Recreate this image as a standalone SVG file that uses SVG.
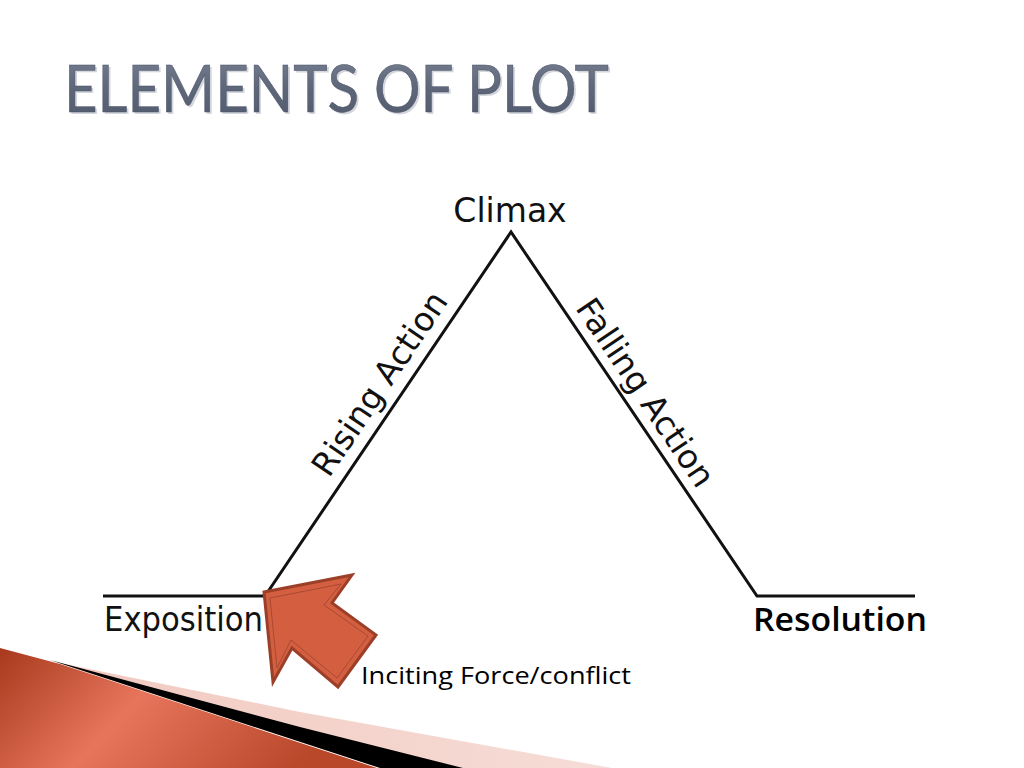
<svg xmlns="http://www.w3.org/2000/svg" width="1024" height="768" viewBox="0 0 1024 768">
<defs>
<style>
.lbl{font-family:"DejaVu Sans","Verdana",sans-serif;font-size:33px;fill:#111}
.cal{font-family:"Open Sans","Liberation Sans",sans-serif;fill:#000}
.ln{stroke:#111;stroke-width:3;fill:none;stroke-linejoin:miter}
</style>
<linearGradient id="red" x1="0" y1="0" x2="1" y2="0.3">
<stop offset="0" stop-color="#a8391c"/>
<stop offset="0.45" stop-color="#e6755c"/>
<stop offset="1" stop-color="#b9472a"/>
</linearGradient>
<linearGradient id="pink" x1="0" y1="0" x2="1" y2="0">
<stop offset="0" stop-color="#f1c9c0"/>
<stop offset="1" stop-color="#f6ddd7"/>
</linearGradient>
<linearGradient id="ttl" x1="0" y1="0" x2="0" y2="1">
<stop offset="0" stop-color="#7c8498"/>
<stop offset="0.5" stop-color="#5f677b"/>
<stop offset="1" stop-color="#50586b"/>
</linearGradient>
</defs>
<rect width="1024" height="768" fill="#fff"/>
<g id="background">
<polygon points="55,662 300,712 612,768 380,768" fill="url(#pink)"/>
<polygon points="50,660 300,727 463,768 380,768" fill="#000"/>
<polygon points="0,648 60,664 377,768 0,768" fill="url(#red)"/>
</g>
<g id="title">
<text x="64" y="112" font-family="Lato,'Open Sans',sans-serif" font-size="65" textLength="545" lengthAdjust="spacingAndGlyphs" fill="#d3d6dc" transform="translate(2,2)">ELEMENTS OF PLOT</text>
<text x="64" y="112" font-family="Lato,'Open Sans',sans-serif" font-size="65" textLength="545" lengthAdjust="spacingAndGlyphs" fill="url(#ttl)" stroke="#4a5164" stroke-width="0.5">ELEMENTS OF PLOT</text>
</g>
<g id="connectors">
<polyline class="ln" points="103,596 265,596 511,232 757,596 915,596"/>
</g>
<g id="climax"><text class="lbl" x="510" y="222" text-anchor="middle">Climax</text></g>
<g id="rising"><text class="lbl" x="389" y="390" text-anchor="middle" transform="rotate(-56 389 390)">Rising Action</text></g>
<g id="falling"><text class="lbl" x="636" y="399" text-anchor="middle" transform="rotate(56 636 399)">Falling Action</text></g>
<g id="exposition"><text class="lbl" x="104" y="631" font-size="35" textLength="159" lengthAdjust="spacingAndGlyphs">Exposition</text></g>
<g id="resolution"><text class="cal" x="753" y="631" font-size="33" textLength="174" lengthAdjust="spacingAndGlyphs" font-weight="600">Resolution</text></g>
<g id="inciting">
<polygon points="264,592 352,575 332,603 376,635 338,687 292,648 273,682" fill="#d45e40" stroke="#9c3f28" stroke-width="3" stroke-linejoin="miter"/>
<polygon points="270,598 341,584 324,605 368,636 337,678 291,640 277,668" fill="none" stroke="#a84a31" stroke-width="1"/>
<text class="cal" x="361" y="684" font-size="24" textLength="270" lengthAdjust="spacingAndGlyphs" font-weight="500">Inciting Force/conflict</text>
</g>
</svg>
